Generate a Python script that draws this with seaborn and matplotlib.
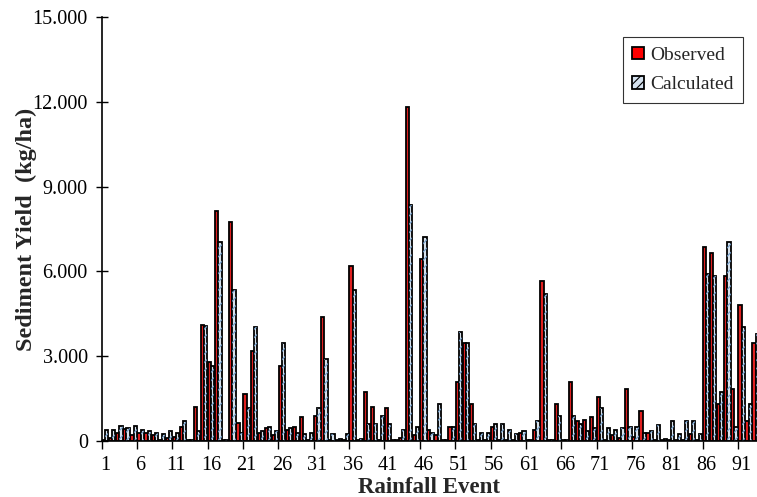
import numpy as np
import pandas as pd
import matplotlib
matplotlib.use("Agg")
import matplotlib.pyplot as plt
import seaborn as sns
from matplotlib.patches import Patch, Rectangle
from matplotlib.ticker import FuncFormatter, FixedLocator

# values (kg/ha), events 1..93
observed = [30, 120, 300, 420, 200, 280, 300, 220, 30, 100,
            150, 500, 30, 1200, 4100, 2800, 8150, 20, 7750, 650,
            1650, 3200, 300, 450, 200, 2650, 400, 500, 850, 30,
            900, 4400, 50, 50, 30, 6200, 50, 1750, 1200, 50,
            1150, 50, 100, 11800, 200, 6450, 400, 200, 30, 500,
            2100, 3450, 1300, 30, 30, 500, 30, 30, 50, 300,
            30, 400, 5650, 30, 1300, 30, 2100, 700, 750, 850,
            1550, 30, 200, 100, 1850, 150, 1050, 300, 20, 50,
            30, 30, 30, 250, 30, 6850, 6650, 1300, 5850, 1850,
            4800, 700, 3450]
calculated = [380, 400, 520, 460, 520, 400, 350, 280, 250, 350,
              300, 700, 20, 350, 4080, 2650, 7050, 50, 5350, 300,
              1150, 4050, 350, 500, 350, 3450, 450, 300, 250, 300,
              1150, 2900, 250, 80, 250, 5350, 80, 600, 600, 900,
              600, 50, 400, 8350, 500, 7200, 300, 1300, 50, 500,
              3850, 3450, 600, 300, 300, 600, 600, 400, 250, 350,
              50, 700, 5200, 50, 900, 50, 900, 600, 350, 450,
              1150, 450, 400, 450, 500, 500, 300, 350, 550, 80,
              700, 250, 700, 700, 250, 5900, 5850, 1750, 7050, 500,
              4050, 1300, 3800]
events = list(range(1, len(observed) + 1))

df = pd.DataFrame({
    "event": events * 2,
    "value": observed + calculated,
    "series": ["Observed"] * len(events) + ["Calculated"] * len(events),
})

red = "#FF0000"
blue_fill = "#D5E2EF"
hatch_col = "#6F9BC8"

sns.set_theme(style="white")
plt.rcParams["font.family"] = ["Liberation Serif", "DejaVu Serif"]
plt.rcParams["hatch.linewidth"] = 0.8

fig = plt.figure(figsize=(7.57, 4.97), dpi=100)
ax = fig.add_axes([101.7 / 757, 56 / 497, 1 - 101.7 / 757, (441 - 17) / 497])

sns.barplot(data=df, x="event", y="value", hue="series",
            palette=[red, blue_fill], edgecolor="black", linewidth=1.3,
            width=0.9, gap=0.0, legend=False, ax=ax)

# hatch overlay on calculated bars
for p in ax.patches[len(events):2 * len(events)]:
    ax.add_patch(Rectangle(p.get_xy(), p.get_width(), p.get_height(),
                           facecolor="none", edgecolor=hatch_col,
                           hatch="////", linewidth=0, zorder=p.get_zorder() + 0.1))

ax.set_ylim(0, 15000)
ax.set_xlim(-0.5, 92.19)
ax.set_yticks(np.arange(0, 15001, 3000))
ax.yaxis.set_major_formatter(FuncFormatter(lambda v, _: f"{int(v):,}".replace(",", ".")))
ax.tick_params(axis="y", direction="inout", length=8, width=1, colors="black",
               labelsize=14.5, pad=6, left=True)

labels_pos = list(range(0, len(events), 5))
ax.set_xticks(labels_pos)
ax.set_xticklabels([str(events[i]) for i in labels_pos])
ax.xaxis.set_minor_locator(FixedLocator([i - 0.5 for i in labels_pos]))
ax.tick_params(axis="x", which="major", length=0, labelsize=14.5, pad=11, colors="black")
ax.tick_params(axis="x", which="minor", length=6, width=1, color="black", bottom=True)

for s in ["top", "right"]:
    ax.spines[s].set_visible(False)
for s in ["left", "bottom"]:
    ax.spines[s].set_color("black")
    ax.spines[s].set_linewidth(1.2)

ax.set_xlabel("Rainfall Event", fontsize=16.5, fontweight="bold", labelpad=1)
ax.set_ylabel("Sediment Yield  (kg/ha)", fontsize=17.5, fontweight="bold", labelpad=-3)

handles = [Patch(facecolor=red, edgecolor="black", linewidth=1.3, label="Observed"),
           Patch(facecolor=blue_fill, edgecolor="black", linewidth=1.3, hatch="////",
                 label="Calculated")]
leg = ax.legend(handles=handles, loc="upper right",
                bbox_to_anchor=((743 - 101.7) / (757 - 101.7), (441 - 37) / 424),
                fontsize=14, frameon=True, fancybox=False, handlelength=0.6,
                handleheight=0.6, handletextpad=0.3, borderpad=0.5, labelspacing=0.65,
                borderaxespad=0)
leg.get_frame().set_edgecolor("black")
leg.get_frame().set_linewidth(0.8)

fig.savefig("out.png", dpi=100)
